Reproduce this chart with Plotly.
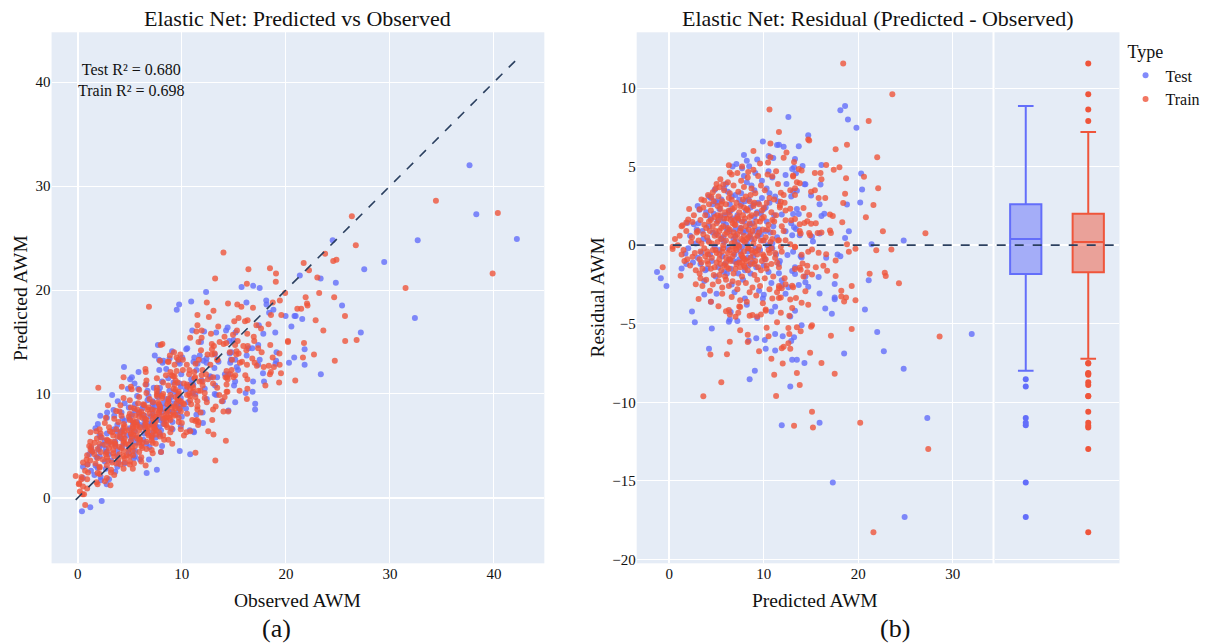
import plotly.graph_objects as go

# ---------------- data: (predicted AWM, residual = predicted - observed) ----------------
test_points = [
    (18.1, 8.59), (18.6, 8.86), (18.9, 8.0), (19.8, 7.47), (12.6, 8.16), (14.7, 7.0), (13.7, 6.3), (12.1, 6.26),
    (11.6, 6.4), (9.9, 6.6), (20.3, 4.56), (20.4, 3.54), (18.8, 2.59), (20.2, 2.72), (19.0, 0.89), (18.6, 0.46),
    (21.4, 0.06), (24.8, 0.3), (16.1, 5.1), (16.0, 3.86), (15.0, 3.16), (14.4, 3.88), (15.9, 2.6), (16.1, 1.85),
    (16.4, 2.0), (15.9, 0.74), (15.1, 0.53), (15.2, 0.23), (13.2, 4.96), (13.0, 4.85), (13.3, 5.49), (14.1, 5.04),
    (13.4, 4.58), (12.3, 4.47), (14.3, 3.88), (12.4, 3.9), (13.1, 3.44), (13.5, 3.46), (12.9, 3.1), (13.5, 2.3),
    (13.1, 1.98), (13.7, 1.98), (11.9, 1.96), (12.9, 1.39), (13.2, 1.14), (13.4, 1.03), (12.3, 0.89), (13.0, 0.63),
    (13.8, 0.63),
    (7.9, 5.74), (8.2, 5.38), (9.3, 5.46), (7.1, 5.17), (6.7, 5.0), (8.45, 5.02), (10.5, 5.68), (11.0, 5.55),
    (11.4, 6.37), (10.5, 4.7), (4.8, 3.52), (4.2, 3.1), (3.2, 2.26), (3.9, 2.1), (1.9, 1.41), (2.6, 1.33), (10.9, 0.1),
    (32.0, -5.65), (27.3, -11.0), (17.3, -15.1), (24.9, -17.3), (15.9, -11.3), (11.9, -11.46), (24.8, -7.87),
    (22.7, -6.75), (22.0, -5.53), (18.5, -6.9), (14.3, -7.5), (13.0, -7.3), (13.5, -7.3), (12.8, -9.0), (12.0, -5.8),
    (12.9, -6.1), (13.2, -5.86), (14.0, -5.1), (20.7, -4.1), (17.2, -4.37), (16.5, -4.03), (17.5, -3.33),
    (17.5, -3.44), (15.9, -3.08), (13.3, -4.18), (12.8, -4.54), (12.3, -3.1), (13.7, -2.53), (14.7, -2.64),
    (14.4, -2.36), (12.6, -2.68), (11.9, -2.24), (15.8, -2.03), (14.4, -2.0), (13.3, -1.84), (13.0, -1.65),
    (17.5, -2.47), (21.1, -2.24), (16.6, -0.8), (17.8, -0.59), (18.1, -0.7), (13.9, -0.7), (14.0, -0.78),
    (13.1, -0.42), (12.5, -0.63), (13.3, -1.41), (11.6, -1.79), (11.9, -2.58),
    (8.5, -8.54), (9.05, -8.0), (4.2, -6.6), (4.5, -5.3), (8.4, -6.08), (9.2, -5.93), (10.1, -6.03), (10.2, -6.6),
    (11.2, -6.7), (11.2, -5.65), (2.4, -4.22), (2.7, -4.9), (6.3, -4.87), (6.4, -4.73), (6.5, -4.26), (7.2, -4.83),
    (8.2, -3.8), (9.3, -4.64), (10.8, -4.22), (11.2, -3.92), (3.7, -3.14), (4.4, -3.6), (3.7, -2.28), (-1.3, -1.7),
    (-0.9, -2.1), (-0.3, -2.6), (1.3, -1.48), (1.8, -1.2), (1.7, -0.53), (10.0, -3.16),
    (2.0, -0.2), (2.9, 1.0), (3.3, -1.2), (3.6, 0.4), (4.0, 1.9), (4.3, -0.6), (4.6, 0.8), (4.9, -2.0), (5.1, 1.5),
    (5.3, -0.3), (5.5, 2.9), (5.7, 0.5), (5.8, -1.7), (6.0, 3.9), (6.1, 1.0), (6.3, -0.9), (6.5, 2.2), (6.6, -2.5),
    (6.8, 0.4), (7.0, 3.2), (7.1, -1.1), (7.3, 1.6), (7.5, -0.4), (7.6, 2.6), (7.8, -2.2), (7.9, 4.4), (8.1, 0.9),
    (8.3, -0.8), (8.4, 2.9), (8.6, -1.8), (8.8, 1.4), (9.0, 3.5), (9.1, -0.2), (9.3, 2.1), (9.5, -2.9), (9.7, 0.7),
    (9.8, 4.1), (10.0, -1.3), (10.2, 2.4), (10.4, 0.0), (10.6, 3.3), (10.8, -2.4), (11.0, 1.2), (11.3, -0.6),
    (11.5, 2.8), (11.7, -1.0), (6.9, -3.0), (5.0, -3.1), (8.0, -3.4), (3.0, 2.5), (4.4, 3.0), (9.9, -3.4), (7.2, 0.2),
    (5.9, 1.9), (10.9, 4.3),
    (2.2, 0.6), (2.5, -1.1), (2.8, 0.1), (3.1, 1.4), (3.4, -0.5), (3.5, 0.9), (3.8, -1.6), (4.1, 0.3), (4.2, 1.2),
    (4.5, -1.0), (4.7, 2.0), (4.8, -0.1), (5.0, 0.7), (5.2, -1.4), (5.4, 1.8), (5.6, -0.7), (5.8, 0.2), (5.9, -1.2),
    (6.0, 1.3), (6.2, -0.2), (6.4, 0.9), (6.5, -1.5), (6.7, 1.7), (6.9, -0.6), (7.0, 0.6), (7.2, 1.9), (7.4, -0.9),
    (7.5, 1.1), (7.7, -0.1), (7.8, 0.8), (8.0, -1.6), (8.1, 2.2), (8.2, 0.1), (8.4, -1.3), (8.5, 1.3), (8.7, 0.4),
    (8.9, -0.7), (9.0, 1.8), (9.2, -1.4), (9.4, 0.6), (9.6, -0.3), (9.7, 2.0), (9.9, 0.3), (10.1, -0.9), (10.3, 1.5),
    (10.5, -1.7), (10.7, 0.8), (10.9, -0.2), (11.1, 1.9), (11.4, 0.5), (11.6, -1.2), (3.0, -0.8), (4.0, -1.5),
    (5.3, 2.3), (6.3, 2.1), (7.3, -1.8), (8.6, 2.4), (9.5, 1.0), (10.2, 0.9), (6.8, -1.0), (7.9, 1.5), (5.5, 0.4),
    (4.4, 1.7), (8.3, -0.4), (9.1, 0.9), (10.0, 2.3), (7.1, 0.0), (6.1, -1.8), (8.8, -1.1), (5.7, 1.5),
    (5.1, 2.7), (6.2, 3.4), (7.4, 2.9), (8.7, 3.8), (9.4, 2.7), (10.3, 3.6), (7.7, 4.9), (4.6, 2.6), (11.2, 3.1),
    (9.1, 4.6), (6.6, 3.1), (8.0, 2.8),
    (4.9, 2.8), (6.4, 2.6), (7.6, 3.3), (8.9, 2.6), (9.8, 3.0), (10.6, 2.7), (5.8, 3.6), (8.2, 4.0), (7.0, 1.0),
    (8.5, 0.6),
]

train_points = [
    (18.4, 11.56), (23.6, 9.6), (21.1, 7.9), (14.7, 6.73), (14.8, 6.67), (17.6, 6.1), (18.8, 6.4), (22.0, 5.6),
    (12.4, 5.9), (12.1, 5.57), (11.6, 7.2), (17.4, 4.8), (18.0, 4.96), (18.7, 4.26), (20.6, 4.35), (22.1, 3.63),
    (18.6, 3.27), (18.4, 2.68), (21.6, 2.55), (20.8, 1.77), (18.3, 1.46), (22.6, 0.89), (27.1, 0.76), (18.8, 0.06),
    (19.7, -0.23), (21.9, -0.32), (23.5, -0.27), (16.6, 5.1), (15.4, 4.6), (16.0, 4.6), (16.1, 4.2), (15.4, 3.5),
    (15.0, 3.4), (15.8, 3.0), (16.5, 3.0), (17.0, 1.96), (17.3, 1.85), (14.8, 1.92), (15.5, 1.4), (15.0, 1.37),
    (15.7, 0.78), (16.1, 0.8), (17.0, 0.93), (17.1, 0.78), (14.8, 0.78), (14.9, 0.63), (13.7, 4.85), (13.1, 4.37),
    (13.2, 5.3), (14.0, 4.75), (13.1, 4.43), (13.5, 4.0), (13.8, 3.94), (12.8, 3.5), (13.3, 3.63), (11.8, 3.33),
    (12.1, 3.2), (13.3, 3.2), (11.8, 2.76), (12.2, 2.7), (11.7, 2.53), (14.2, 2.36), (12.8, 2.32), (12.3, 2.2),
    (12.3, 1.58), (12.9, 1.58), (13.3, 1.67), (13.8, 1.33), (14.3, 1.41), (14.6, 1.52), (12.1, 0.91), (13.8, 0.91),
    (13.9, 0.74), (11.6, 0.32), (12.3, 0.32), (12.8, 0.06), (13.3, -0.1),
    (10.6, 8.63), (10.7, 6.47), (8.9, 6.0), (7.7, 5.0), (8.35, 4.66), (6.3, 5.08), (6.4, 4.62), (10.45, 5.27),
    (10.9, 4.39), (5.7, 3.86), (5.3, 3.69), (4.6, 3.37), (4.45, 3.06), (3.7, 2.85), (3.2, 2.28), (2.0, 1.63),
    (1.4, 1.27), (2.45, 1.47), (0.35, -0.1), (0.9, 0.0), (1.3, 1.2), (1.8, 1.45),
    (28.6, -5.82), (27.4, -12.97), (21.6, -18.27), (20.2, -11.3), (15.1, -10.6), (15.2, -11.6), (13.2, -11.5),
    (17.5, -8.18), (16.1, -7.5), (13.5, -8.14), (13.8, -8.9), (12.0, -7.53), (14.9, -6.84), (12.8, -6.6),
    (11.9, -6.56), (12.1, -6.46), (12.6, -6.25), (12.7, -5.65), (13.5, -5.23), (13.9, -5.48), (15.1, -5.1),
    (15.0, -5.2), (17.1, -5.76), (19.3, -5.34), (19.7, -3.5), (18.2, -3.27), (18.5, -3.58), (18.7, -3.33),
    (18.2, -2.9), (19.3, -2.6), (14.7, -3.8), (14.0, -3.67), (13.0, -4.0), (12.7, -4.5), (14.4, -2.93),
    (13.4, -3.37), (12.8, -3.46), (11.8, -3.33), (13.1, -2.68), (13.0, -2.58), (12.3, -2.49), (12.2, -2.1),
    (11.6, -2.6), (15.1, -1.86), (14.2, -2.0), (14.6, -1.73), (13.3, -1.52), (13.9, -1.56), (15.5, -1.41),
    (16.3, -1.31), (16.7, -1.63), (17.6, -1.96), (21.2, -1.82), (22.8, -1.75), (22.9, -1.96), (24.3, -2.42),
    (17.6, -0.97), (16.6, -0.57), (15.8, -0.49), (19.0, -0.42), (14.7, -0.42), (15.1, -0.27), (13.3, -0.13),
    (11.9, -0.42), (14.0, -0.61), (14.1, -1.16), (13.8, -1.43), (14.6, -1.31), (11.6, -2.74), (11.9, -2.74),
    (11.6, -3.37), (12.6, -5.27),
    (3.6, -9.62), (5.5, -8.73), (11.1, -8.25), (4.35, -6.96), (6.1, -6.94), (6.4, -6.14), (7.5, -5.42), (8.3, -5.7),
    (8.3, -6.16), (9.5, -6.75), (10.3, -5.25), (10.5, -5.8), (10.8, -7.23), (11.3, -9.6), (6.0, -4.2), (6.3, -4.13),
    (6.4, -4.41), (7.0, -4.56), (7.5, -3.94), (7.3, -4.3), (8.5, -4.5), (8.8, -4.45), (9.3, -4.54), (9.7, -4.41),
    (10.2, -4.18), (11.4, -4.9), (5.2, -3.88), (3.1, -3.42), (4.4, -3.6), (2.8, -2.49), (3.5, -2.6), (3.3, -2.1),
    (1.2, -1.94), (-0.7, -1.41), (0.35, -0.25), (1.9, -0.89), (2.45, -0.74),
    (1.1, 0.6), (1.5, -0.3), (1.8, 0.9), (2.2, -1.3), (2.3, 0.2), (2.6, 1.9), (2.7, -0.5), (2.9, 0.8), (1.6, -1.0),
    (2.1, 2.3), (2.8, -1.6), (2.4, 0.5), (0.6, 0.4), (1.3, -0.6),
    (3.1, 0.3), (3.2, -0.9), (3.3, 1.6), (3.4, 2.9), (3.5, -1.5), (3.6, 0.7), (3.7, -0.2), (3.8, 1.9), (3.9, -2.2),
    (3.4, 0.1), (3.6, 2.4), (3.9, 1.1), (3.2, -1.8), (3.8, -0.7),
    (4.0, 0.5), (4.1, 3.2), (4.1, -1.2), (4.2, 1.5), (4.3, -2.9), (4.4, 2.2), (4.5, 0.1), (4.5, -0.8), (4.6, 1.2),
    (4.7, 2.8), (4.7, -1.9), (4.8, 0.6), (4.9, 3.6), (4.9, -0.3), (4.3, 0.9), (4.6, -2.5), (4.2, 2.6), (4.8, 1.8),
    (4.4, -1.5), (4.0, -0.4),
    (5.0, 1.4), (5.0, -1.1), (5.1, 2.5), (5.1, 0.2), (5.2, -2.3), (5.2, 3.1), (5.3, 0.9), (5.3, -0.6), (5.4, 1.9),
    (5.4, 4.2), (5.5, -1.6), (5.5, 0.4), (5.6, 2.8), (5.6, -3.1), (5.7, 1.2), (5.7, -0.2), (5.8, 3.5), (5.8, -1.3),
    (5.9, 2.1), (5.9, 0.7), (5.2, 1.6), (5.6, -2.7), (5.4, 2.3), (5.0, 3.9), (5.9, -2.0), (5.3, -1.9),
    (6.0, 0.3), (6.0, 2.6), (6.1, -1.4), (6.1, 1.7), (6.2, 4.0), (6.2, -0.5), (6.3, 2.2), (6.3, -2.6), (6.4, 1.0),
    (6.4, 3.3), (6.5, -1.0), (6.5, 0.6), (6.6, 2.9), (6.6, -3.3), (6.7, 1.4), (6.7, -0.1), (6.8, 3.8), (6.8, -1.8),
    (6.9, 2.4), (6.9, 0.2), (6.2, 1.1), (6.4, -0.9), (6.6, 4.5), (6.8, 0.8), (6.0, -2.2), (6.3, 3.0), (6.7, -2.3),
    (6.9, 1.6),
    (7.0, 0.5), (7.0, -1.5), (7.1, 2.7), (7.1, -0.3), (7.2, 1.8), (7.2, -2.8), (7.3, 3.4), (7.3, 0.0), (7.4, -1.1),
    (7.4, 2.1), (7.5, 0.9), (7.5, -3.5), (7.6, 4.1), (7.6, -0.6), (7.7, 1.5), (7.7, -2.0), (7.8, 2.9), (7.8, 0.3),
    (7.9, -1.3), (7.9, 3.7), (7.0, 1.3), (7.3, -2.4), (7.5, 2.5), (7.8, -0.8), (7.2, 4.6), (7.6, 1.1), (7.9, 0.6),
    (7.4, -3.9),
    (8.0, 1.7), (8.0, -0.9), (8.1, 3.1), (8.1, -2.4), (8.2, 0.4), (8.2, 2.3), (8.3, -1.6), (8.3, 4.3), (8.4, 1.0),
    (8.4, -0.2), (8.5, 2.8), (8.5, -3.0), (8.6, 0.7), (8.6, -1.2), (8.7, 3.6), (8.7, 1.9), (8.8, -0.5), (8.8, -2.7),
    (8.9, 2.5), (8.9, 0.1), (8.2, -3.6), (8.5, 1.4), (8.9, 4.8), (8.0, 0.2), (8.6, 3.2),
    (9.0, 1.2), (9.0, -1.9), (9.1, 3.3), (9.1, -0.4), (9.2, 2.0), (9.2, -3.2), (9.3, 0.6), (9.4, 4.4), (9.4, -1.4),
    (9.5, 2.6), (9.5, -0.1), (9.6, 1.5), (9.6, -2.6), (9.7, 3.8), (9.7, 0.3), (9.8, -1.0), (9.8, 2.2), (9.9, -3.7),
    (9.9, 1.0), (9.3, -2.2), (9.6, 5.2), (9.0, 0.4),
    (10.0, 1.8), (10.0, -0.7), (10.1, 3.5), (10.1, -2.1), (10.2, 0.5), (10.3, 2.7), (10.3, -1.5), (10.4, 4.5),
    (10.5, -0.3), (10.5, 1.3), (10.6, -2.8), (10.6, 3.0), (10.7, 0.2), (10.8, -1.2), (10.8, 2.1), (10.9, -3.4),
    (10.9, 1.6), (10.2, -4.1), (10.7, 5.6),
    (11.0, 0.8), (11.0, -2.0), (11.1, 2.9), (11.2, -0.8), (11.3, 1.9), (11.4, -3.0), (11.5, 3.9), (11.5, 0.3),
    (11.6, -1.4), (11.7, 2.4), (11.8, -0.1), (11.9, 1.2), (11.3, 4.7), (11.8, -4.3),
    (3.0, 0.9), (3.3, -0.4), (3.7, 1.3), (4.0, -1.0), (4.2, 0.2), (4.4, 1.6), (4.6, -0.3), (4.9, 0.9), (5.0, -0.5),
    (5.2, 0.6), (5.4, -1.2), (5.5, 1.1), (5.7, 0.0), (5.8, 1.7), (6.0, -0.8), (6.1, 0.8), (6.3, -1.5), (6.4, 1.9),
    (6.6, 0.1), (6.7, -0.7), (6.9, 1.3), (7.0, -0.2), (7.2, 0.7), (7.3, 1.7), (7.5, -1.4), (7.6, 0.4), (7.8, 1.9),
    (7.9, -0.4), (8.1, 1.2), (8.2, -1.0), (8.4, 0.5), (8.5, 1.8), (8.7, -0.3), (8.8, 0.9), (9.0, -1.2), (9.2, 1.5),
    (9.3, -0.6), (9.5, 0.8), (9.7, -1.6), (9.8, 1.7), (10.0, 0.3), (10.2, -0.9), (10.4, 1.0), (10.6, -0.5),
    (10.9, 0.4), (11.1, 1.5), (11.4, -1.1), (5.1, 1.9), (6.5, 1.6), (7.7, -1.1),
    (3.4, -1.1), (4.1, -0.6), (4.8, -1.4), (5.3, -0.9), (5.6, -0.4), (6.0, -1.1), (6.4, -0.3), (6.8, -0.5),
    (7.1, -1.2), (7.4, -0.1), (7.7, -0.7), (8.0, -1.4), (8.3, -0.2), (8.6, -0.8), (9.1, -1.0), (9.4, -0.3),
    (9.9, -0.6), (10.3, -1.3), (10.8, -0.2), (11.2, -0.5),
    (5.5, 2.6), (6.7, 2.3), (7.9, 2.4), (9.0, 2.7), (10.0, 2.4), (8.3, 2.2),
]

r2_labels = ["Test R² = 0.680", "Train R² = 0.698"]
series_names = ["Test", "Train"]
colors = {"Test": "#636efa", "Train": "#EF553B"}


def split(points):
    pred = [p for p, r in points]
    resid = [r for p, r in points]
    obs = [round(p - r, 3) for p, r in points]
    return pred, resid, obs


series = {"Test": split(test_points), "Train": split(train_points)}

W, H = 1206, 643
KX = 1.005  # small horizontal correction observed in the rendered page
FONT = "Liberation Serif, Times New Roman, serif"
TXT = "#111111"
LINE = "#2a3f5f"


def fx(px):
    return min(px * KX / W, 1.0)


def fy(py):
    return 1 - py / H


fig = go.Figure()

# ---- left panel: predicted vs observed
for name in series_names:
    pred, resid, obs = series[name]
    fig.add_trace(go.Scatter(
        x=obs, y=pred, mode="markers", name=name, legendgroup=name, showlegend=False,
        marker=dict(color=colors[name], size=6, opacity=0.8),
        xaxis="x", yaxis="y"))

all_obs = series["Test"][2] + series["Train"][2]
lo, hi = min(all_obs), max(all_obs)
fig.add_trace(go.Scatter(x=[lo, hi], y=[lo, hi], mode="lines", showlegend=False,
                         line=dict(color=LINE, dash="dash", width=1.6), xaxis="x", yaxis="y",
                         hoverinfo="skip"))

# ---- right panel: residual vs predicted + marginal box
for name in series_names:
    pred, resid, obs = series[name]
    fig.add_trace(go.Scatter(
        x=pred, y=resid, mode="markers", name=name, legendgroup=name, showlegend=True,
        marker=dict(color=colors[name], size=6, opacity=0.8),
        xaxis="x2", yaxis="y2"))

for name in series_names:
    pred, resid, obs = series[name]
    fig.add_trace(go.Box(
        y=resid, name=name, legendgroup=name, showlegend=False, boxpoints="outliers",
        marker=dict(color=colors[name], size=6), line=dict(color=colors[name], width=2),
        width=0.5, xaxis="x3", yaxis="y2"))

fig.add_shape(type="line", xref="paper", yref="y2", x0=fx(638.3), x1=fx(1122.3), y0=0, y1=0,
              line=dict(color=LINE, dash="dash", width=1.6), layer="above")

axis_common = dict(automargin=False, gridcolor="white", zerolinecolor="white", zerolinewidth=2,
                   tickfont=dict(family=FONT, size=15, color=TXT), ticks="", showline=False)

fig.update_layout(
    width=W, height=H, margin=dict(l=0, r=0, t=0, b=0),
    paper_bgcolor="white", plot_bgcolor="#E5ECF6",
    font=dict(family=FONT, color=TXT, size=15),
    xaxis=dict(domain=[fx(51.7), fx(545.7)], range=[-2.52, 44.84], anchor="y", dtick=10, **axis_common),
    yaxis=dict(domain=[fy(563.3), fy(32.3)], range=[-6.3, 44.8], anchor="x", dtick=10, **axis_common),
    xaxis2=dict(domain=[fx(638.3), fx(995)], range=[-3.45, 34.2], anchor="y2", dtick=10, **axis_common),
    yaxis2=dict(domain=[fy(563.3), fy(32.3)], range=[-20.25, 13.55], anchor="x2", dtick=5, **axis_common),
    xaxis3=dict(domain=[fx(997), fx(1122.3)], anchor="y2", type="category",
                categoryorder="array", categoryarray=series_names, range=[-0.5, 1.5],
                showticklabels=False, showgrid=False, zeroline=False, automargin=False),
    legend=dict(title=dict(text="Type", font=dict(size=18, family=FONT, color=TXT)),
                font=dict(size=16, family=FONT, color=TXT), x=1134 / W, y=fy(35),
                xanchor="left", yanchor="top", bgcolor="rgba(0,0,0,0)", tracegroupgap=0),
    showlegend=True,
)


def label(text, px, py, size, angle=0):
    return dict(text=text, x=fx(px), y=fy(py), xref="paper", yref="paper", showarrow=False,
                textangle=angle, font=dict(size=size, family=FONT, color=TXT),
                xanchor="center", yanchor="middle")


annotations = [
    label("Elastic Net: Predicted vs Observed", 298.7, 19, 22),
    label("Elastic Net: Residual (Predicted - Observed)", 880, 19, 22),
    label("Observed AWM", 298.7, 600, 19.5),
    label("Predicted AWM", 816.7, 600, 19.5),
    label("Predicted AWM", 20, 298, 19.5, -90),
    label("Residual AWM", 598, 298, 19.5, -90),
    dict(text="<br>".join(r2_labels), x=0.05, y=0.95, xref="x domain", yref="y domain",
         showarrow=False, font=dict(size=16, family=FONT, color=TXT), xanchor="left", yanchor="top",
         align="center"),
    label("(a)", 277, 628, 26),
    label("(b)", 897, 628, 26),
]
fig.update_layout(annotations=annotations)

fig.write_html("out.html", config={"displayModeBar": False},
               post_script="document.body.style.margin='0px';")
